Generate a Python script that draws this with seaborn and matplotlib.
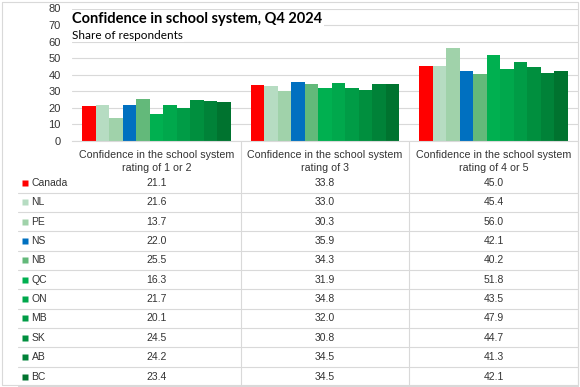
import numpy as np
import pandas as pd
import matplotlib
matplotlib.use("Agg")
import matplotlib.pyplot as plt
import seaborn as sns

# 데이터
categories = ["Confidence in the school system\nrating of 1 or 2",
              "Confidence in the school system\nrating of 3",
              "Confidence in the school system\nrating of 4 or 5"]
regions    = ["Canada", "NL", "PE", "NS", "NB", "QC", "ON", "MB", "SK", "AB", "BC"]
rating_1_2 = [21.1, 21.6, 13.7, 22.0, 25.5, 16.3, 21.7, 20.1, 24.5, 24.2, 23.4]
rating_3   = [33.8, 33.0, 30.3, 35.9, 34.3, 31.9, 34.8, 32.0, 30.8, 34.5, 34.5]
rating_4_5 = [45.0, 45.4, 56.0, 42.1, 40.2, 51.8, 43.5, 47.9, 44.7, 41.3, 42.1]
yticks     = [0, 10, 20, 30, 40, 50, 60, 70, 80]

COLORS = ["#FF0000", "#B6DCC2", "#A0D2AA", "#0070C0", "#63B97A", "#00B050",
          "#00A84C", "#009C46", "#008F3E", "#008238", "#00732F"]

series = [rating_1_2, rating_3, rating_4_5]
df = pd.DataFrame([
    {"rating": cat, "region": r, "share": v}
    for cat, vals in zip(categories, series)
    for r, v in zip(regions, vals)
])

sns.set_theme(style="white")
plt.rcParams["font.family"] = ["Liberation Sans", "DejaVu Sans"]

W, H = 580, 387
fig = plt.figure(figsize=(5.8, 3.87), dpi=100)
fig.patch.set_facecolor("white")

# 막대 영역
x0, x1, y_top, y_base = 72, 578, 8.5, 141
ax = fig.add_axes([x0 / W, 1 - y_base / H, (x1 - x0) / W, (y_base - y_top) / H])
sns.barplot(data=df, x="rating", y="share", hue="region", hue_order=regions,
            palette=COLORS, width=0.88, gap=0, saturation=1, legend=False,
            linewidth=0, ax=ax)
ax.set_xlim(-0.5, 2.5)
ax.set_ylim(0, 80)
ax.set_yticks(yticks)
ax.set_yticklabels([str(t) for t in yticks], fontsize=8, color="#333333")
ax.tick_params(axis="y", length=0, pad=8)
ax.set_xticks([])
ax.set(xlabel="", ylabel="")
ax.yaxis.grid(True, color="#D9D9D9", lw=0.8)
ax.set_axisbelow(True)
for s in ["top", "left", "right"]:
    ax.spines[s].set_visible(False)
ax.spines["bottom"].set_color("#D9D9D9")
ax.spines["bottom"].set_linewidth(0.8)

# 오버레이 (제목, 데이터 테이블)
ov = fig.add_axes([0, 0, 1, 1])
ov.set_xlim(0, W)
ov.set_ylim(H, 0)
ov.axis("off")
ov.patch.set_alpha(0)

ov.text(x0, 19, "Confidence in school system, Q4 2024", fontsize=10.5,
        weight="bold", va="center", ha="left", color="black", family=["Lato", "DejaVu Sans"],
        bbox=dict(facecolor="white", edgecolor="none", pad=1.5))
ov.text(x0, 35.5, "Share of respondents", fontsize=8.5, va="center", ha="left",
        color="black", family=["Lato", "DejaVu Sans"],
        bbox=dict(facecolor="white", edgecolor="none", pad=1))

cw = (x1 - x0) / 3
grid_c = "#D9D9D9"
row0, pitch = 183, 19.35
n = len(regions)
table_bottom = row0 + pitch * (n - 0.5)

for i, cat in enumerate(categories):
    ov.text(x0 + cw * (i + 0.5), 161.5, cat, fontsize=7.7, ha="center", va="center",
            color="#333333", linespacing=1.4)
for i in range(1, 4):
    ov.plot([x0 + cw * i] * 2, [y_base, table_bottom], color=grid_c, lw=0.8)

for j, r in enumerate(regions):
    y = row0 + pitch * j
    ov.plot([18, x1], [y + pitch / 2] * 2, color=grid_c, lw=0.8)
    ov.plot([25], [y], marker="s", ms=5, color=COLORS[j], mec="none")
    ov.text(31.5, y, r, fontsize=7.5, ha="left", va="center", color="#333333")
    for i, vals in enumerate(series):
        ov.text(x0 + cw * (i + 0.5), y, f"{vals[j]:.1f}", fontsize=7.5,
                ha="center", va="center", color="#333333")

# 차트 테두리
ov.plot([2, W - 2, W - 2, 2, 2], [2, 2, H - 2.5, H - 2.5, 2], color=grid_c, lw=0.8)

fig.savefig("out.png", dpi=100)
